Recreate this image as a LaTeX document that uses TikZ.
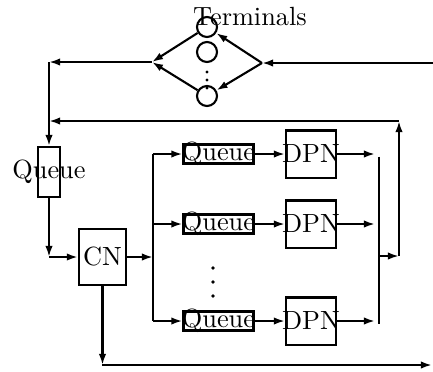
\documentclass[tikz,border=0pt]{standalone}
\usepackage{tikz}
\usetikzlibrary{arrows.meta, positioning}

\begin{document}
\begin{tikzpicture}[x=0.38pt, y=-0.38pt, line width=0.8pt,
  arr/.style={-{Latex[length=4.2pt,width=2.8pt,fill=gray!35]}},
  qbox/.style={draw, minimum width=26.6pt, minimum height=7.2pt, inner sep=0pt},
  dpnbox/.style={draw, minimum width=19pt, minimum height=17.9pt, inner sep=0pt},
  term/.style={draw, circle, minimum size=7.6pt, inner sep=0pt}]

  \useasboundingbox (0,0) rectangle (433,371);

  % Terminals
  \node (termtxt) at (250,17) {Terminals};
  \node[term] (t1) at (207,27) {};
  \node[term] (t2) at (207,52) {};
  \node[term] (t3) at (207,96) {};
  \foreach \y in {72,80,88} \fill (207,\y) circle (0.6pt);
  \coordinate (dl) at (152,62);
  \coordinate (dr) at (262,63);
  \coordinate (tin) at (433,63);
  \draw[arr] (tin) -- (dr);
  \draw[arr] (dr) -- (t1);
  \draw[arr] (dr) -- (t3);
  \draw[arr] (t1) -- (dl);
  \draw[arr] (t3) -- (dl);

  % Input queue and CN
  \coordinate (c1) at (49,62);
  \coordinate (c2) at (49,121);
  \draw[arr] (dl) -- (c1);
  \node[draw, minimum width=8.7pt, minimum height=19pt, inner sep=0pt] (q0) at (49,172) {};
  \node (q0txt) at (q0) {Queue};
  \draw[arr] (c1) -- (c1 |- q0.north);
  \node[draw, minimum width=17.9pt, minimum height=21.3pt, inner sep=0pt] (cn) at (102.5,257) {};
  \node (cntxt) at (cn) {CN};
  \coordinate (c4) at (q0.south |- cn.west);
  \draw[arr] (q0) -- (c4);
  \draw[arr] (c4) -- (cn);

  % Queue / DPN rows
  \foreach \r/\y in {1/154, 2/224, 3/321}{
    \node[qbox] (q\r) at (218.5,\y) {};
    \node (qt\r) at (q\r) {Queue};
    \node[dpnbox] (d\r) at (311,\y) {};
    \node (dt\r) at (d\r) {DPN};
    \coordinate (s\r) at (153,\y);
    \coordinate (e\r) at (379,\y);
    \draw[arr] (s\r) -- (q\r);
    \draw[arr] (q\r) -- (d\r);
    \draw[arr, shorten >=1.5pt] (d\r) -- (e\r);
  }
  \foreach \y in {268,282,296} \fill (213,\y) circle (0.7pt);
  \coordinate (s0) at (s1 |- cn.east);
  \draw[arr] (cn) -- (s0);
  \draw (s1) -- (s3);
  \draw ([yshift=-1pt]e1) -- ([yshift=-1pt]e3);

  % Feedback to input
  \coordinate (f1) at (379,256);
  \coordinate (f2) at (399,256);
  \coordinate (f3) at (399,121);
  \draw[arr] (f1) -- (f2);
  \draw[arr] (f2) -- (f3);
  \draw[arr] (f3) -- (c2);

  % Output
  \coordinate (b1) at (cn.south |- 0,365);
  \coordinate (b2) at (432,365);
  \draw[arr] (cn) -- (b1);
  \draw[arr] (b1) -- (b2);

\end{tikzpicture}
\end{document}
